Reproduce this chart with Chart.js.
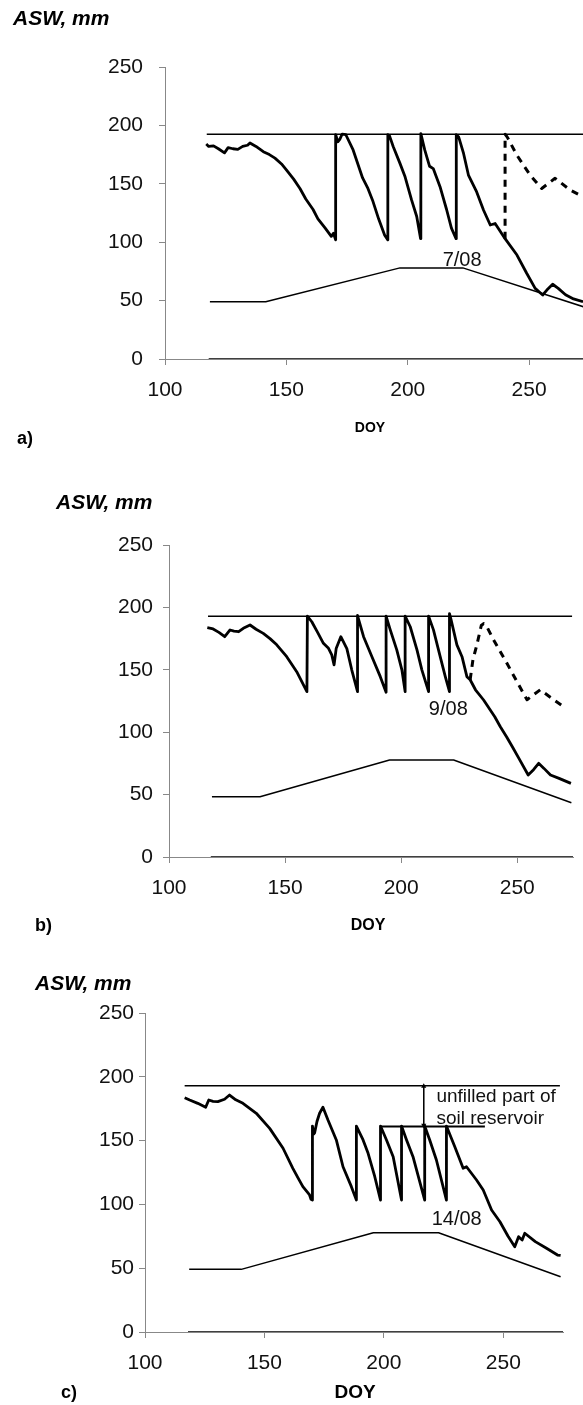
<!DOCTYPE html>
<html>
<head>
<meta charset="utf-8">
<script src="https://cdn.jsdelivr.net/npm/chart.js@4.4.0/dist/chart.umd.min.js"></script>
<style>
  body { margin: 0; background: #fff; }
  #page { position: relative; width: 583px; height: 1405px; overflow: hidden;
          font-family: "Liberation Sans", Arial, sans-serif; color: #000; }
  canvas { position: absolute; left: 0; }
  .txt { position: absolute; white-space: nowrap; line-height: 1; }
  .ylab { font-weight: bold; font-style: italic; font-size: 21px; transform: translateY(-50%); }
  .plab { font-weight: bold; font-size: 18px; transform: translateY(-50%); }
  .doy { font-weight: bold; transform: translate(-50%, -50%); }
  .note { font-size: 20px; color: #111; }
</style>
</head>
<body>
<div id="page">
  <canvas id="chartA" width="583" height="450" style="top:0"></canvas>
  <canvas id="chartB" width="583" height="470" style="top:460px"></canvas>
  <canvas id="chartC" width="583" height="475" style="top:930px"></canvas>

  <div class="txt ylab" style="left:13px;top:17px">ASW, mm</div>
  <div class="txt doy" style="left:370px;top:427px;font-size:14px">DOY</div>
  <div class="txt plab" style="left:17px;top:438px">a)</div>

  <div class="txt ylab" style="left:56px;top:501px">ASW, mm</div>
  <div class="txt doy" style="left:368px;top:925px;font-size:16px">DOY</div>
  <div class="txt plab" style="left:35px;top:925px">b)</div>

  <div class="txt ylab" style="left:35px;top:982px">ASW, mm</div>
  <div class="txt doy" style="left:355px;top:1391px;font-size:19px">DOY</div>
  <div class="txt plab" style="left:61px;top:1392px">c)</div>
</div>
<script>
// axis ticks (same for all panels)
const doyTicks = [100, 150, 200, 250];
const aswTicks = [0, 50, 100, 150, 200, 250];

// panel a) - irrigation to field capacity, stop on 7/08
const aMainDoy = [117, 118, 120, 122, 124.5, 126, 128, 130, 132, 134, 135, 137.5, 140.5, 143, 145.3, 148, 150, 153, 155.6, 158, 161, 163, 166, 168.5, 169.4, 170.3,
  170.3, 171.2, 172, 173, 174.5, 177.5, 181.4, 183.6, 185.5, 188, 190.5, 191.8,
  191.8, 192.5, 194, 196.8, 198.9, 201.6, 203.7, 205.3,
  205.4, 207, 209, 210.5, 213.3, 216, 218, 219.9,
  220, 221, 223, 225, 228.4, 231.2, 234, 236, 240.1, 245, 249, 252.5, 255.6, 257.3, 259.7, 262, 265, 268.3, 272.2, 275];
const aMainAsw = [184, 182, 182.5, 180, 176.5, 181, 180, 179.5, 182, 183, 185, 182, 177.5, 175, 172, 167, 162, 154, 146, 137, 128, 120, 112, 105, 107.6, 102,
  192, 186, 188, 192.6, 192, 179, 155, 146, 136, 120, 106, 102,
  192, 191, 182, 167.5, 156, 136, 122, 103,
  193, 179, 165, 163, 147.5, 128, 112, 103,
  192, 190, 176, 157.5, 143, 127.6, 114.7, 116, 103, 89, 73.4, 60.5, 54.8, 59, 64, 60.5, 55, 51.4, 49, 47];
const aDashDoy = [240.1, 240.1, 241, 244.9, 250.4, 255.2, 260.7, 266.9, 272.2, 275];
const aDashAsw = [103, 192.5, 190, 174.7, 157.5, 146, 154.7, 144.7, 139, 137];
const aUpperDoy = [117.2, 275];
const aUpperAsw = [192.5, 192.5];
const aLowerDoy = [118.5, 141.5, 196.8, 222.7, 275];
const aLowerAsw = [49, 49, 78, 78, 43];

// panel b) - stop on 9/08
const bMainDoy = [116.5, 119, 121.5, 124, 126.3, 128, 130, 132, 134.9, 137.5, 140.6, 143.5, 146.4, 150.7, 155, 159.4,
  159.6, 161.5, 164, 166.5, 168.7, 170.1, 171.1, 172, 174, 176.6, 178.7, 181.2,
  181.2, 183.8, 187.4, 191, 193.5,
  193.5, 195.3, 198.1, 200.3, 201.7,
  201.7, 203.9, 206.8, 208.9, 211.8,
  211.8, 213.9, 216.8, 219, 220.8,
  220.8, 221.5, 224, 226.2, 228.3, 229.7, 232, 235.5, 240.3, 242.7, 245.5, 248, 250.7, 254.7, 257, 259.2, 261.5, 264.3, 268, 273.1];
const bMainAsw = [183.7, 182.7, 180, 176.5, 181.9, 181, 180.5, 183.2, 185.9, 182.5, 179.2, 175, 170, 160.5, 148.5, 132.5,
  193, 188.5, 180, 171.2, 167.2, 162, 154, 167, 176.5, 167, 150, 132.5,
  193.5, 176.5, 160.5, 144.5, 132,
  193, 182, 166, 150, 132.5,
  193, 184.5, 166, 150, 132.5,
  193, 182, 160.5, 144.5, 132.5,
  195, 190, 170, 160.5, 144.5, 142, 134, 125.8, 112.4, 104.4, 96, 88, 79, 65.7, 70, 75.1, 71, 65.7, 63, 59];
const bDashDoy = [229.7, 230.9, 232.6, 234.5, 235.5, 236.5, 239.8, 245.6, 250.6, 254.2, 257, 259.9, 265.7, 270];
const bDashAsw = [142, 158, 170, 185.5, 187, 186, 174, 155, 138, 126, 130, 134, 126, 120.4];
const bUpperDoy = [116.8, 273.6];
const bUpperAsw = [193, 193];
const bLowerDoy = [118.5, 139.2, 195, 222.6, 273.3];
const bLowerAsw = [48.3, 48.3, 77.7, 77.7, 43.5];

// panel c) - deficit irrigation up to ~160 mm, stop on 14/08
const cMainDoy = [116.6, 118.7, 122.1, 125.4, 126.7, 128.5, 130.5, 133.3, 135.4, 138, 141, 146.6, 152.2, 157.8, 161.9, 164, 166.1, 168.9, 169.5, 170.1,
  170.1, 170.6, 171, 172, 173.1, 174.5, 176.6, 180.1, 182.9, 186.4, 188.5,
  188.5, 191.3, 193.4, 196.2, 198.6,
  198.6, 201.1, 203.9, 207.4,
  207.4, 209.5, 212.2, 217.1,
  217.1, 219.2, 222, 226.2,
  226.2, 229.7, 233.2, 234.6, 238.8, 241.6, 245.1, 248.6, 252, 254.8, 256.4, 257.9, 259, 263.4, 268.1, 272.7, 274];
const cMainAsw = [183.6, 181.8, 179.2, 176.1, 181.8, 180.8, 180.5, 182.4, 185.7, 182, 179.2, 171.4, 159.6, 144, 128.3, 121, 113.9, 107.4, 104, 103.4,
  161.4, 155, 156, 165, 171.4, 176.1, 166.1, 150.5, 129.5, 113.9, 103.4,
  161.4, 150.5, 140, 121.7, 103.4,
  161.4, 150.5, 137.4, 103.4,
  161.4, 150.5, 137.4, 103.4,
  161.4, 150.5, 134.8, 103.4,
  161.4, 145.2, 128.3, 129.5, 119.1, 111.3, 95.6, 86.4, 75, 66.8, 74.7, 72.1, 77.4, 70.8, 65.6, 60.3, 60];
const cUpperDoy = [116.6, 273.7];
const cUpperAsw = [193, 193];
const cLowerDoy = [118.5, 140.3, 195.6, 222.9, 274];
const cLowerAsw = [49.1, 49.1, 77.8, 77.8, 43.3];
const cTargetDoy = [198.6, 242.3];
const cTargetAsw = [161, 161];
const cArrowDoy = [216.7, 216.7];
const cArrowAsw = [192.5, 162];

// zero line drawn over the x axis
const zeroDoy = [118, 275];
const zeroAsw = [0, 0];

function pts(xs, ys) {
  return xs.map((x, i) => ({ x: x, y: ys[i] }));
}

function line(xs, ys, width, extra) {
  return Object.assign({
    data: pts(xs, ys),
    borderColor: '#000',
    borderWidth: width,
    borderJoinStyle: 'round',
    borderCapStyle: 'butt',
    pointRadius: 0,
    tension: 0,
    fill: false
  }, extra || {});
}

// positions text boxes in data coordinates once the chart is laid out
const notesPlugin = {
  id: 'notes',
  afterRender(chart) {
    const notes = chart.options.plugins.notes;
    if (!notes) return;
    const top = chart.canvas.offsetTop;
    notes.items.forEach(n => {
      if (!n.el) {
        n.el = document.createElement('div');
        n.el.className = 'txt note';
        n.el.textContent = n.text;
        if (n.size) n.el.style.fontSize = n.size + 'px';
        document.getElementById('page').appendChild(n.el);
      }
      const px = chart.scales.x.getPixelForValue(n.x);
      const py = chart.scales.y.getPixelForValue(n.y) + top;
      n.el.style.left = px + 'px';
      n.el.style.top = py + 'px';
      n.el.style.transform = n.align === 'left' ? 'translateY(-50%)' : 'translate(-50%, -50%)';
    });
  }
};

function makePanel(id, p) {
  const ctx = document.getElementById(id).getContext('2d');
  return new Chart(ctx, {
    type: 'line',
    data: { datasets: p.datasets },
    options: {
      responsive: false,
      animation: false,
      events: [],
      layout: { padding: { top: p.top, right: p.right, left: 0, bottom: 0 } },
      plugins: { legend: { display: false }, tooltip: { enabled: false }, notes: { items: p.notes } },
      scales: {
        x: {
          type: 'linear',
          min: 100,
          max: p.xMax,
          afterBuildTicks: s => { s.ticks = doyTicks.map(v => ({ value: v })); },
          afterFit: s => { s.height = p.xHeight; },
          border: { color: '#888', width: 1 },
          grid: { drawOnChartArea: false, tickLength: 6, color: '#888' },
          ticks: { padding: 13, color: '#111', font: { family: 'Liberation Sans', size: 21 } }
        },
        y: {
          min: 0,
          max: 250,
          afterBuildTicks: s => { s.ticks = aswTicks.map(v => ({ value: v })); },
          afterFit: s => { s.width = p.left; },
          border: { color: '#888', width: 1 },
          grid: { drawOnChartArea: false, tickLength: 6, color: '#888' },
          ticks: { padding: p.yPad, color: '#111', font: { family: 'Liberation Sans', size: 21 } }
        }
      }
    },
    plugins: [notesPlugin]
  });
}

makePanel('chartA', {
  top: 67, right: 0, left: 165, xHeight: 91, xMax: 272.2, yPad: 16,
  datasets: [
    line(zeroDoy, zeroAsw, 1.5),
    line(aUpperDoy, aUpperAsw, 1.5),
    line(aLowerDoy, aLowerAsw, 1.5),
    line(aDashDoy, aDashAsw, 3, { borderDash: [7, 6] }),
    line(aMainDoy, aMainAsw, 2.8)
  ],
  notes: [{ text: '7/08', x: 222.4, y: 85.6 }]
});

makePanel('chartB', {
  top: 85, right: 10, left: 169, xHeight: 73, xMax: 274, yPad: 10,
  datasets: [
    line(zeroDoy, zeroAsw, 1.5),
    line(bUpperDoy, bUpperAsw, 1.5),
    line(bLowerDoy, bLowerAsw, 1.5),
    line(bDashDoy, bDashAsw, 3, { borderDash: [7, 6] }),
    line(bMainDoy, bMainAsw, 2.8)
  ],
  notes: [{ text: '9/08', x: 220.3, y: 119.4 }]
});

makePanel('chartC', {
  top: 83, right: 20, left: 145, xHeight: 73, xMax: 275, yPad: 5,
  datasets: [
    line(zeroDoy, zeroAsw, 1.5),
    line(cUpperDoy, cUpperAsw, 1.5),
    line(cLowerDoy, cLowerAsw, 1.5),
    line(cTargetDoy, cTargetAsw, 2),
    line(cArrowDoy, cArrowAsw, 1, {
      pointRadius: 3, pointStyle: 'triangle', pointRotation: [0, 180],
      pointBackgroundColor: '#000', pointBorderWidth: 0
    }),
    line(cMainDoy, cMainAsw, 2.8)
  ],
  notes: [
    { text: '14/08', x: 230.5, y: 89.3 },
    { text: 'unfilled part of', x: 222, y: 185.7, align: 'left', size: 19 },
    { text: 'soil reservoir', x: 222, y: 168.7, align: 'left', size: 19 }
  ]
});
</script>
</body>
</html>
